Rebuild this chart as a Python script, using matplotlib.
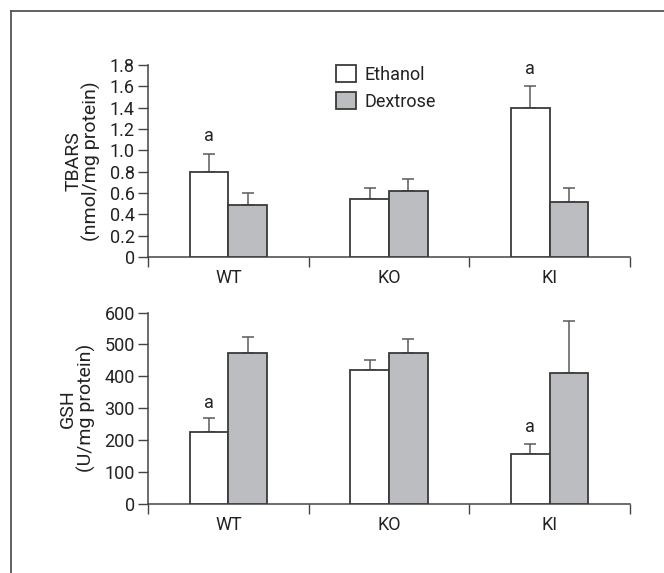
import numpy as np
import matplotlib
matplotlib.use("Agg")
import matplotlib.pyplot as plt
from matplotlib.lines import Line2D

plt.rcParams['font.family'] = ['Roboto', 'DejaVu Sans']

groups = ["WT", "KO", "KI"]
series = ["Ethanol", "Dextrose"]

# TBARS (nmol/mg protein)
tbars_eth = [0.80, 0.545, 1.40]
tbars_eth_err = [0.17, 0.105, 0.20]
tbars_dex = [0.49, 0.615, 0.515]
tbars_dex_err = [0.11, 0.115, 0.13]
tbars_marks = [(0, 1.13), (2, 1.76)]

# GSH (U/mg protein)
gsh_eth = [225, 421, 156]
gsh_eth_err = [44, 30, 32]
gsh_dex = [472, 474, 409]
gsh_dex_err = [50, 42, 163]
gsh_marks = [(0, 318), (2, 240)]

edge = "#3a3a3a"
dex_color = "#bcbdc1"
err_color = "#5a5a5a"
txt = "#222222"
fs = 13
W, H = 664, 573

fig = plt.figure(figsize=(6.64, 5.73), dpi=100)

# outer frame (top + left only)
fig.add_artist(Line2D([11 / W, 1.0], [1 - 11 / H, 1 - 11 / H], color="#555555", lw=1.3))
fig.add_artist(Line2D([11 / W, 11 / W], [0, 1 - 11 / H], color="#555555", lw=1.3))


def panel(rect, eth, eth_err, dex, dex_err, marks, ylim, yticks, yticklabels, ylabel):
    ax = fig.add_axes(rect)
    x = np.arange(len(groups))
    w = 0.24
    ax.bar(x - w / 2, eth, w, color="white", edgecolor=edge, linewidth=1.3, label=series[0], zorder=3)
    ax.bar(x + w / 2, dex, w, color=dex_color, edgecolor=edge, linewidth=1.3, label=series[1], zorder=3)
    ax.errorbar(x - w / 2, eth, yerr=[np.zeros(3), eth_err], fmt="none", ecolor=err_color,
                elinewidth=1.1, capsize=4, capthick=1.1, zorder=2)
    ax.errorbar(x + w / 2, dex, yerr=[np.zeros(3), dex_err], fmt="none", ecolor=err_color,
                elinewidth=1.1, capsize=4, capthick=1.1, zorder=2)
    for gi, yv in marks:
        ax.text(gi - w / 2, yv, "a", ha="center", va="center", fontsize=fs, color=txt)
    ax.set_xlim(-0.5, len(groups) - 0.5)
    ax.set_ylim(*ylim)
    ax.set_yticks(yticks)
    ax.set_yticklabels(yticklabels)
    ax.set_xticks([-0.5, 0.5, 1.5, 2.5])
    ax.set_xticklabels([])
    ax.set_xticks(x, minor=True)
    ax.set_xticklabels(groups, minor=True)
    ax.tick_params(axis="x", which="major", direction="out", length=7, width=1, color="#444444")
    ax.tick_params(axis="x", which="minor", length=0, pad=9, labelsize=fs, labelcolor=txt)
    ax.tick_params(axis="y", direction="out", length=7.5, width=1, color="#444444", pad=2,
                   labelsize=fs, labelcolor=txt)
    for s in ["top", "right"]:
        ax.spines[s].set_visible(False)
    for s in ["left", "bottom"]:
        ax.spines[s].set_color("#444444")
        ax.spines[s].set_linewidth(1.1)
    ax.set_ylabel(ylabel, fontsize=fs + 1, color=txt, labelpad=6, linespacing=1.0)
    return ax


top = panel([148 / W, 1 - 257 / H, 482 / W, 192 / H], tbars_eth, tbars_eth_err, tbars_dex,
            tbars_dex_err, tbars_marks, (0, 1.8), np.arange(0, 1.81, 0.2),
            ["0", "0.2", "0.4", "0.6", "0.8", "1.0", "1.2", "1.4", "1.6", "1.8"],
            "TBARS\n(nmol/mg protein)")
top.legend(loc="upper left", bbox_to_anchor=(0.39, 1.0), borderaxespad=0, borderpad=0,
           frameon=False, fontsize=fs, handlelength=1.1, handleheight=1.1, handletextpad=0.5,
           labelspacing=0.45, labelcolor=txt)

bot = panel([148 / W, 1 - 504 / H, 482 / W, 191.5 / H], gsh_eth, gsh_eth_err, gsh_dex,
            gsh_dex_err, gsh_marks, (0, 600), np.arange(0, 601, 100),
            [str(v) for v in range(0, 601, 100)], "GSH\n(U/mg protein)")

fig.savefig("out.png", dpi=100)
